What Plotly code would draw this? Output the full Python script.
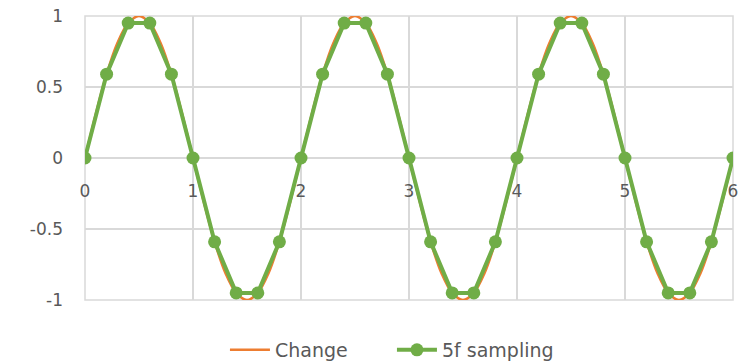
import plotly.graph_objects as go

# Continuous signal, read every 0.1 along x
change_x = [0.0, 0.1, 0.2, 0.3, 0.4, 0.5, 0.6, 0.7, 0.8, 0.9,
            1.0, 1.1, 1.2, 1.3, 1.4, 1.5, 1.6, 1.7, 1.8, 1.9,
            2.0, 2.1, 2.2, 2.3, 2.4, 2.5, 2.6, 2.7, 2.8, 2.9,
            3.0, 3.1, 3.2, 3.3, 3.4, 3.5, 3.6, 3.7, 3.8, 3.9,
            4.0, 4.1, 4.2, 4.3, 4.4, 4.5, 4.6, 4.7, 4.8, 4.9,
            5.0, 5.1, 5.2, 5.3, 5.4, 5.5, 5.6, 5.7, 5.8, 5.9, 6.0]
change_y = [0, 0.31, 0.59, 0.81, 0.95, 1.0, 0.95, 0.81, 0.59, 0.31,
            0, -0.31, -0.59, -0.81, -0.95, -1.0, -0.95, -0.81, -0.59, -0.31,
            0, 0.31, 0.59, 0.81, 0.95, 1.0, 0.95, 0.81, 0.59, 0.31,
            0, -0.31, -0.59, -0.81, -0.95, -1.0, -0.95, -0.81, -0.59, -0.31,
            0, 0.31, 0.59, 0.81, 0.95, 1.0, 0.95, 0.81, 0.59, 0.31,
            0, -0.31, -0.59, -0.81, -0.95, -1.0, -0.95, -0.81, -0.59, -0.31, 0]

# Samples taken at five times the signal frequency
sample_x = [0.0, 0.2, 0.4, 0.6, 0.8, 1.0, 1.2, 1.4, 1.6, 1.8,
            2.0, 2.2, 2.4, 2.6, 2.8, 3.0, 3.2, 3.4, 3.6, 3.8,
            4.0, 4.2, 4.4, 4.6, 4.8, 5.0, 5.2, 5.4, 5.6, 5.8, 6.0]
sample_y = [0, 0.59, 0.95, 0.95, 0.59, 0, -0.59, -0.95, -0.95, -0.59,
            0, 0.59, 0.95, 0.95, 0.59, 0, -0.59, -0.95, -0.95, -0.59,
            0, 0.59, 0.95, 0.95, 0.59, 0, -0.59, -0.95, -0.95, -0.59, 0]

x_ticks = [0, 1, 2, 3, 4, 5, 6]
y_ticks = [-1, -0.5, 0, 0.5, 1]
y_tick_text = ["-1", "-0.5", "0", "0.5", "1"]

ORANGE = "#ed7d31"
GREEN = "#70ad47"
GRID = "#d9d9d9"
TEXT = "#595959"
FONT = "DejaVu Sans"

fig = go.Figure()
fig.add_trace(go.Scatter(
    x=change_x, y=change_y, name="Change", mode="lines",
    line=dict(color=ORANGE, width=2.5, shape="spline"),
))
fig.add_trace(go.Scatter(
    x=sample_x, y=sample_y, name="5f sampling", mode="lines+markers",
    line=dict(color=GREEN, width=4),
    marker=dict(color=GREEN, size=13),
))

# Frame around the plot area (edge grid lines)
fig.add_shape(type="rect", xref="paper", yref="paper", x0=0, x1=1, y0=0, y1=1,
              line=dict(color=GRID, width=1.5), layer="below")

fig.update_layout(
    width=748, height=363,
    margin=dict(l=85, r=15, t=16, b=63, autoexpand=False),
    paper_bgcolor="white", plot_bgcolor="white",
    font=dict(family=FONT, size=17, color=TEXT),
    showlegend=True,
    legend=dict(
        orientation="h", xref="container", yref="container",
        x=0.524, y=0.036, xanchor="center", yanchor="middle",
        font=dict(family=FONT, size=19, color=TEXT),
        itemwidth=40, entrywidth=112,
    ),
    xaxis=dict(
        range=[0, 6], tickvals=x_ticks, ticktext=[str(v) for v in x_ticks],
        showgrid=True, gridcolor=GRID, gridwidth=1.5,
        zeroline=False, showline=False,
        anchor="free", position=0.5, automargin=False,
        ticks="", ticklabelstandoff=21,
    ),
    yaxis=dict(
        range=[-1, 1], tickvals=y_ticks, ticktext=y_tick_text,
        showgrid=True, gridcolor=GRID, gridwidth=1.5,
        zeroline=True, zerolinecolor=GRID, zerolinewidth=1.5,
        showline=False, ticks="", ticklabelstandoff=21, automargin=False,
    ),
)

fig.write_html("out.html")
